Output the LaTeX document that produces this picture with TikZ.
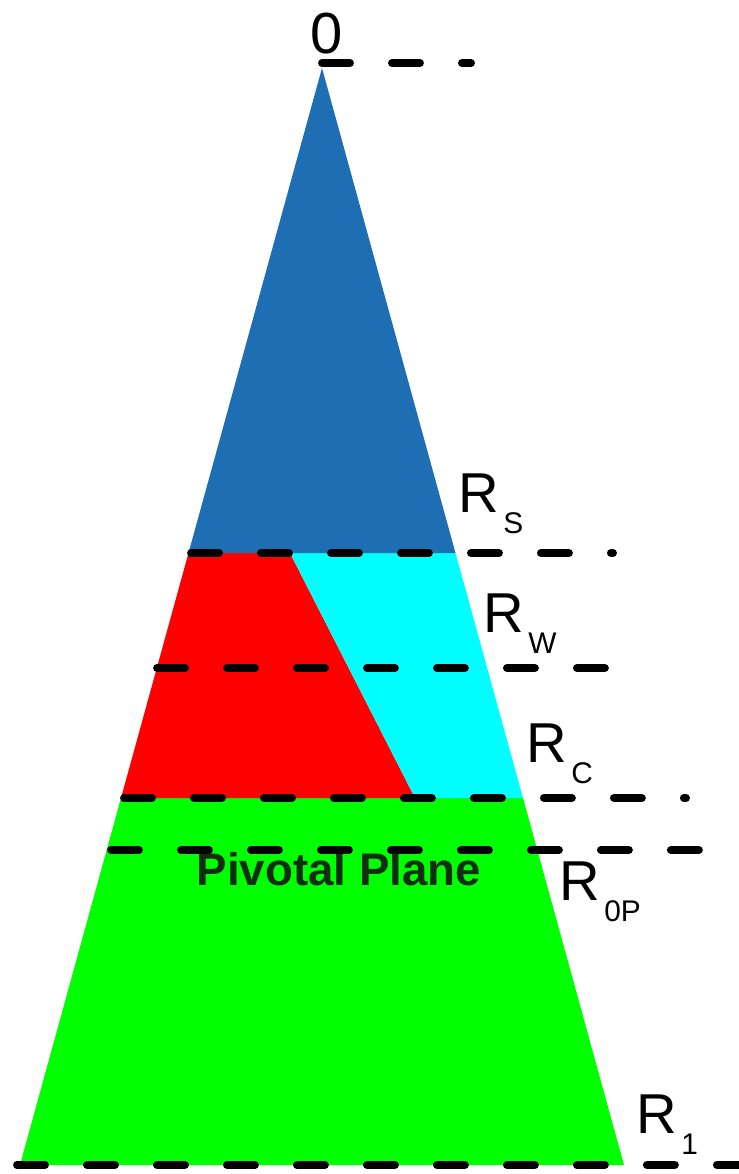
\documentclass[tikz,border=0pt]{standalone}
\usepackage{fontspec}
\setmainfont{Liberation Sans}
\definecolor{coneblue}{RGB}{30,110,180}
\definecolor{conecyan}{RGB}{0,255,255}
\definecolor{conered}{RGB}{255,0,0}
\definecolor{conegreen}{RGB}{0,255,0}
\definecolor{planetext}{RGB}{15,45,15}
\newcommand{\lsub}[1]{\hspace{2.5pt}\raisebox{-12pt}{\fontsize{17}{17}\selectfont #1}}

\begin{document}
\begin{tikzpicture}[x=0.02cm,y=-0.02cm,
  lvl/.style={line width=4.5pt,line cap=round,dash pattern=on 0.56cm off 0.84cm},
  lab/.style={inner sep=0pt,anchor=base west,font=\fontsize{32}{32}\selectfont}]
  \useasboundingbox (0,0) rectangle (739,1174);
  % apex and cut points on the two sides
  \coordinate (top) at (322,68);
  \coordinate (sl) at (188.5,553);  \coordinate (sr) at (455.5,553);
  \coordinate (cl) at (121,798);    \coordinate (cr) at (523,798);
  \coordinate (bl) at (20,1165);    \coordinate (br) at (624,1165);
  \coordinate (ws) at (290,553);    \coordinate (wc) at (415,798);
  \fill[conegreen] (cl) -- (cr) -- (br) -- (bl) -- cycle;
  \fill[conered] (sl) -- (ws) -- (wc) -- (cl) -- cycle;
  \fill[conecyan] (ws) -- (sr) -- (cr) -- (wc) -- cycle;
  \fill[coneblue] (top) -- (sr) -- (sl) -- cycle;
  \node[inner sep=0pt,anchor=base,text=planetext,font=\bfseries\fontsize{26}{26}\selectfont] (pp) at (339,885) {Pivotal Plane};
  % level lines
  \coordinate (t0) at (322,63);  \coordinate (t1) at (471,63);
  \coordinate (s0) at (191,553); \coordinate (s1) at (613,553);
  \coordinate (w0) at (157,668); \coordinate (w1) at (605,668);
  \coordinate (c0) at (124,798); \coordinate (c1) at (686,798);
  \coordinate (p0) at (111,850); \coordinate (p1) at (699,850);
  \coordinate (r0) at (17,1165); \coordinate (r1) at (745,1165);
  \draw[lvl] (t0) -- (t1);
  \draw[lvl] (s0) -- (s1);
  \draw[lvl] (w0) -- (w1);
  \draw[lvl] (c0) -- (c1);
  \draw[lvl] (p0) -- (p1);
  \draw[lvl] (r0) -- (r1);
  % labels
  \node[lab,font=\fontsize{33}{33}\selectfont] (zero) at (310,53) {0};
  \node[lab] (rs) at (458,512) {R\lsub{S}};
  \node[lab] (rw) at (483,632) {R\lsub{W}};
  \node[lab] (rc) at (526,762) {R\lsub{C}};
  \node[lab] (rp) at (559,900) {R\lsub{0P}};
  \node[lab] (r1) at (636,1133) {R\lsub{1}};
\end{tikzpicture}
\end{document}
